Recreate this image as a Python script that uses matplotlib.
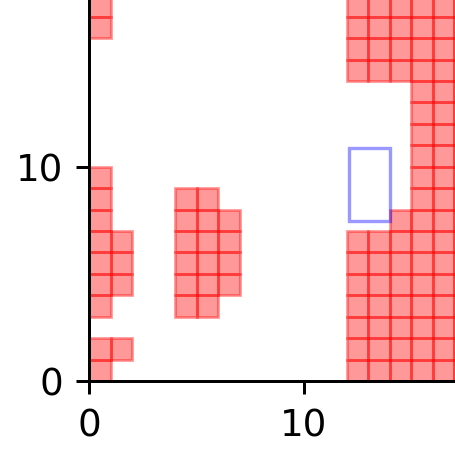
import matplotlib
matplotlib.use("Agg")
import matplotlib.pyplot as plt
from matplotlib.patches import Rectangle

# occupied grid cells (column x, list of rows y)
col_x = [0, 1, 4, 5, 6, 12, 13, 14, 15, 16, 17]
col_rows = [
    [0, 1, 3, 4, 5, 6, 7, 8, 9, 16, 17],
    [1, 4, 5, 6],
    [3, 4, 5, 6, 7, 8],
    [3, 4, 5, 6, 7, 8],
    [4, 5, 6, 7],
    [0, 1, 2, 3, 4, 5, 6, 14, 15, 16, 17],
    [0, 1, 2, 3, 4, 5, 6, 14, 15, 16, 17],
    [0, 1, 2, 3, 4, 5, 6, 7, 14, 15, 16, 17],
    list(range(0, 18)),
    list(range(0, 18)),
    list(range(0, 18)),
]
# blue outlined box: x0, y0, width, height
box = [12.1, 7.47, 1.9, 3.42]
xticks = [0, 10]
yticks = [0, 10]

dpi = 267.65
fig = plt.figure(figsize=(1.7, 1.7), dpi=dpi)
ax = fig.add_axes([89.3 / 455, 74 / 455, 1 - 89.3 / 455, 381 / 455])

for cx, rows in zip(col_x, col_rows):
    for cy in rows:
        ax.add_patch(Rectangle((cx, cy), 1, 1, facecolor="red", edgecolor="red",
                               alpha=0.4, linewidth=0.75))

ax.add_patch(Rectangle((box[0], box[1]), box[2], box[3], facecolor="none",
                       edgecolor="blue", alpha=0.4, linewidth=0.9))

ax.set_xlim(0, 365.7 / 21.47)
ax.set_ylim(0, 381 / 21.43)
ax.set_xticks(xticks)
ax.set_yticks(yticks)
ax.spines["top"].set_visible(False)
ax.spines["right"].set_visible(False)

fig.savefig("out.png", dpi=dpi)
